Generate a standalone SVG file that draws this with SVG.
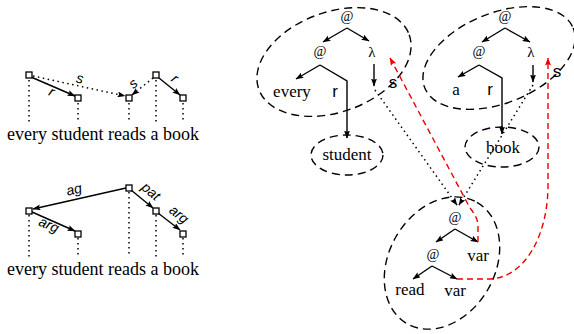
<svg xmlns="http://www.w3.org/2000/svg" width="574" height="334" viewBox="0 0 574 334">
<style>
.sq{fill:#fff;stroke:#000;stroke-width:1.3}
.ln{stroke:#000;stroke-width:1.4;fill:none}
.dot{stroke:#000;stroke-width:1.5;fill:none;stroke-dasharray:1.5 3.5}
.vd{stroke:#000;stroke-width:1.5;fill:none;stroke-dasharray:1.5 3.5}
.ell{fill:none;stroke:#000;stroke-width:1.4;stroke-dasharray:8 5}
.red{fill:none;stroke:#e00;stroke-width:1.4;stroke-dasharray:6 4}
.w{font-family:"Liberation Serif",serif;font-size:18px;fill:#000}
.t{font-family:"Liberation Serif",serif;font-size:17px;fill:#000;text-anchor:middle}
.at{font-family:"Liberation Serif",serif;font-size:14px;fill:#000;text-anchor:middle}
.sv{font-family:"Liberation Sans",sans-serif;font-size:17px;fill:#000;text-anchor:middle}
.lb{font-family:"Liberation Sans",sans-serif;font-size:14px;font-style:italic;fill:#000;text-anchor:middle}
</style>
<defs>
<marker id="ah" markerWidth="8" markerHeight="6" refX="7.5" refY="3" orient="auto" markerUnits="userSpaceOnUse"><path d="M0,0 L8,3 L0,6 L1.5,3 z" fill="#000"/></marker>
<marker id="ahr" markerWidth="8" markerHeight="6" refX="7.5" refY="3" orient="auto" markerUnits="userSpaceOnUse"><path d="M0,0 L8,3 L0,6 L1.5,3 z" fill="#e00"/></marker>
</defs>

<!-- Left top diagram -->
<g id="top-left">
<g id="tl-connectors">
<line class="vd" x1="29" y1="80" x2="29" y2="122"/>
<line class="vd" x1="78" y1="103" x2="78" y2="122"/>
<line class="vd" x1="129" y1="103" x2="129" y2="122"/>
<line class="vd" x1="156" y1="80" x2="156" y2="122"/>
<line class="vd" x1="183" y1="103" x2="183" y2="122"/>
<line class="ln" x1="31" y1="77" x2="75" y2="96" marker-end="url(#ah)"/>
<line class="dot" x1="33" y1="76" x2="125" y2="96" marker-end="url(#ah)"/>
<line class="dot" x1="153" y1="78" x2="132" y2="95" marker-end="url(#ah)"/>
<line class="ln" x1="159" y1="78" x2="180" y2="95" marker-end="url(#ah)"/>
</g>
<g id="tl-nodes">
<rect class="sq" x="26" y="72" width="6" height="6"/>
<rect class="sq" x="75" y="95" width="6" height="6"/>
<rect class="sq" x="126" y="95" width="6" height="6"/>
<rect class="sq" x="153" y="72" width="6" height="6"/>
<rect class="sq" x="180" y="95" width="6" height="6"/>
</g>
<text class="lb" transform="translate(50,96) rotate(24)">r</text>
<text class="lb" transform="translate(79,83) rotate(12)">s</text>
<text class="lb" transform="translate(136,87) rotate(-39)">s</text>
<text class="lb" transform="translate(172,82) rotate(39)">r</text>
<text class="w" x="7" y="140">every student reads a book</text>
</g>

<!-- Left bottom diagram -->
<g id="bottom-left">
<g id="bl-connectors">
<line class="vd" x1="29" y1="215" x2="29" y2="257"/>
<line class="vd" x1="78" y1="238" x2="78" y2="257"/>
<line class="vd" x1="129" y1="192" x2="129" y2="257"/>
<line class="vd" x1="156" y1="215" x2="156" y2="257"/>
<line class="vd" x1="183" y1="238" x2="183" y2="257"/>
<line class="ln" x1="126" y1="188" x2="33" y2="209" marker-end="url(#ah)"/>
<line class="ln" x1="32" y1="212" x2="75" y2="231" marker-end="url(#ah)"/>
<line class="ln" x1="131" y1="190" x2="153" y2="208" marker-end="url(#ah)"/>
<line class="ln" x1="158" y1="213" x2="180" y2="230" marker-end="url(#ah)"/>
</g>
<g id="bl-nodes">
<rect class="sq" x="126" y="185" width="6" height="6"/>
<rect class="sq" x="26" y="208" width="6" height="6"/>
<rect class="sq" x="75" y="231" width="6" height="6"/>
<rect class="sq" x="153" y="208" width="6" height="6"/>
<rect class="sq" x="180" y="231" width="6" height="6"/>
</g>
<text class="lb" transform="translate(75,194) rotate(-13)">ag</text>
<text class="lb" transform="translate(47,229) rotate(24)">arg</text>
<text class="lb" transform="translate(148,195) rotate(40)">pat</text>
<text class="lb" transform="translate(176,218) rotate(39)">arg</text>
<text class="w" x="7" y="275">every student reads a book</text>
</g>

<!-- Right side -->
<g id="every-node">
<ellipse class="ell" cx="334" cy="62" rx="80" ry="50" transform="rotate(-20 334 62)"/>
<text class="at" x="347" y="21">@</text>
<text class="at" x="320" y="56">@</text>
<text class="at" x="372" y="57" style="font-size:15px">λ</text>
<text class="t" x="292" y="97">every</text>
<text class="sv" x="335" y="97">r</text>
<text class="sv" x="393" y="88">s</text>
</g>
<g id="a-node">
<ellipse class="ell" cx="499" cy="58" rx="80" ry="45" transform="rotate(-22 499 58)"/>
<text class="at" x="505" y="21">@</text>
<text class="at" x="479" y="56">@</text>
<text class="at" x="531" y="57" style="font-size:15px">λ</text>
<text class="t" x="456" y="95">a</text>
<text class="sv" x="490" y="95">r</text>
<text class="sv" x="557" y="77">s</text>
</g>
<g id="student-node">
<ellipse class="ell" cx="347" cy="155" rx="36" ry="20"/>
<text class="t" x="347" y="160">student</text>
</g>
<g id="book-node">
<ellipse class="ell" cx="502" cy="147" rx="37" ry="20"/>
<text class="t" x="503" y="153">book</text>
</g>
<g id="read-node">
<ellipse class="ell" cx="442" cy="263" rx="70" ry="53" transform="rotate(-60 442 263)"/>
<text class="at" x="455" y="222">@</text>
<text class="at" x="433" y="259">@</text>
<text class="t" x="478" y="261">var</text>
<text class="t" x="410" y="295">read</text>
<text class="t" x="455" y="296">var</text>
</g>

<g id="connectors">
<line class="ln" x1="347" y1="28" x2="323" y2="42" marker-end="url(#ah)"/>
<line class="ln" x1="347" y1="28" x2="369" y2="41" marker-end="url(#ah)"/>
<line class="ln" x1="320" y1="65" x2="296" y2="79" marker-end="url(#ah)"/>
<polyline class="ln" points="320,65 347,81 347,138" marker-end="url(#ah)"/>
<line class="ln" x1="374" y1="64" x2="374" y2="86" marker-end="url(#ah)"/>

<line class="ln" x1="505" y1="28" x2="482" y2="42" marker-end="url(#ah)"/>
<line class="ln" x1="505" y1="28" x2="530" y2="42" marker-end="url(#ah)"/>
<line class="ln" x1="479" y1="65" x2="458" y2="77" marker-end="url(#ah)"/>
<polyline class="ln" points="479,65 502,78 502,134" marker-end="url(#ah)"/>
<line class="ln" x1="533" y1="65" x2="533" y2="82" marker-end="url(#ah)"/>

<line class="ln" x1="455" y1="229" x2="436" y2="242" marker-end="url(#ah)"/>
<line class="ln" x1="455" y1="229" x2="478" y2="242" marker-end="url(#ah)"/>
<line class="ln" x1="432" y1="266" x2="413" y2="279" marker-end="url(#ah)"/>
<line class="ln" x1="432" y1="266" x2="457" y2="279" marker-end="url(#ah)"/>

<line class="dot" x1="375" y1="90" x2="457" y2="205" marker-end="url(#ah)"/>
<line class="dot" x1="533" y1="85" x2="459" y2="205" marker-end="url(#ah)"/>

<path class="red" d="M478,242 L478,226 C478,219 474,213 470,208 L390,58" marker-end="url(#ahr)"/>
<path class="red" d="M457,279 L488,279 C525,279 548,235 548,185 L548,58" marker-end="url(#ahr)"/>
</g>
</svg>
